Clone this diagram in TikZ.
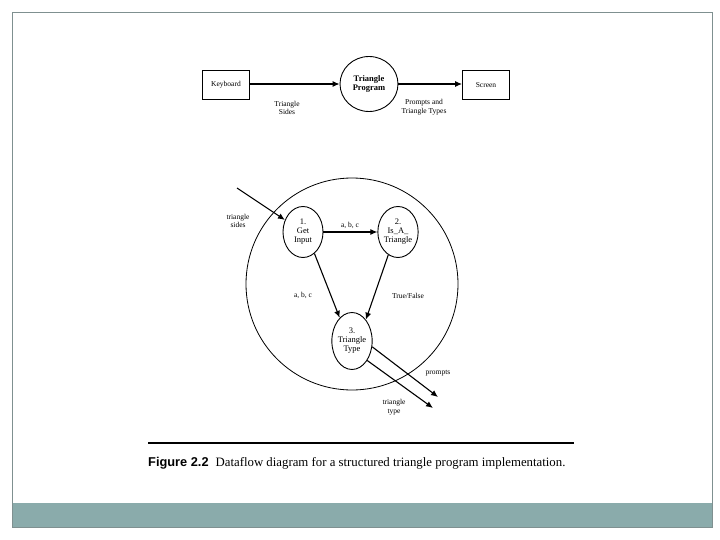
\documentclass[tikz,border=0pt]{standalone}
\usepackage{fontspec}
\setmainfont{Liberation Serif}
\newfontfamily\figsans{Liberation Sans}
\usetikzlibrary{shapes.geometric,arrows.meta}
\definecolor{framegray}{HTML}{7F9090}
\definecolor{barteal}{HTML}{8AABAB}
\tikzset{
  proc/.style={ellipse, draw, line width=0.9pt, inner sep=0pt, align=center, font=\fontsize{8.5}{9}\selectfont},
  ext/.style={rectangle, draw, line width=0.9pt, minimum width=47pt, minimum height=29pt, font=\fontsize{7.5}{8}\selectfont},
  flow/.style={-{Latex[length=7pt,width=6pt]}, line width=1.1pt},
  lbl/.style={align=center, font=\fontsize{7.5}{8.5}\selectfont}
}
\begin{document}
\begin{tikzpicture}[x=1pt,y=-1pt]
\useasboundingbox (0,0) rectangle (720,540);

% Rahmen der Folie
\fill[barteal] (12,503) rectangle (712,527);
\draw[framegray] (12,12) rectangle (712,527);

% Kontextdiagramm
\node[ext] (kbd) at (226,85) {Keyboard};
\node[proc, minimum width=58pt, minimum height=55pt, font=\bfseries\fontsize{8.5}{9.5}\selectfont] (prog) at (369,84) {Triangle\\Program};
\node[ext] (scr) at (486,85) {Screen};
	\draw[flow] (kbd.east |- 0,84) -- (prog.west);
	\draw[flow] (prog.east) -- (scr.west |- 0,84);
\node[lbl] (sides) at (287,108) {Triangle\\Sides};
\node[lbl] (ptypes) at (424,107) {Prompts and\\Triangle Types};

% Zerlegung
\draw[line width=0.8pt] (352,284) circle (106);
\node[proc, minimum width=40pt, minimum height=51pt] (n1) at (303,232) {1.\\Get\\Input};
\node[proc, minimum width=34pt, minimum height=51pt] (n2) at (398,232) {2.\\Is\_A\_\\Triangle};
\node[proc, minimum width=40pt, minimum height=57pt] (n3) at (352,341) {3.\\Triangle\\Type};
\coordinate (inA) at (237,188);
\coordinate (outP) at (438,397);
\coordinate (outT) at (433,408);

	\draw[flow] (inA) -- (n1);
	\draw[flow] (n1) -- (n2);
	\draw[flow] (n1.-62) -- (n3.118);
	\draw[flow] (n2.-113) -- (n3.57);
	\draw[flow] (n3.-16) -- (outP);
	\draw[flow] (n3.-52) -- (outT);

\node[lbl] (tsides) at (238,221) {triangle\\sides};
\node[lbl] (abc1) at (350,225) {a, b, c};
\node[lbl] (abc2) at (303,295) {a, b, c};
\node[lbl] (tf) at (408,296) {True/False};
\node[lbl] (pr) at (438,373) {prompts};
\node[lbl] (ttype) at (394,407) {triangle\\type};

% Bildunterschrift
\draw[line width=2.5pt] (148,443) -- (574,443);
\node[anchor=west, inner sep=0pt, font=\fontsize{12.8}{14}\selectfont] (cap) at (148,463)
  {{\figsans\bfseries Figure 2.2}\hspace{7pt}Dataflow diagram for a structured triangle program implementation.};
\end{tikzpicture}
\end{document}
